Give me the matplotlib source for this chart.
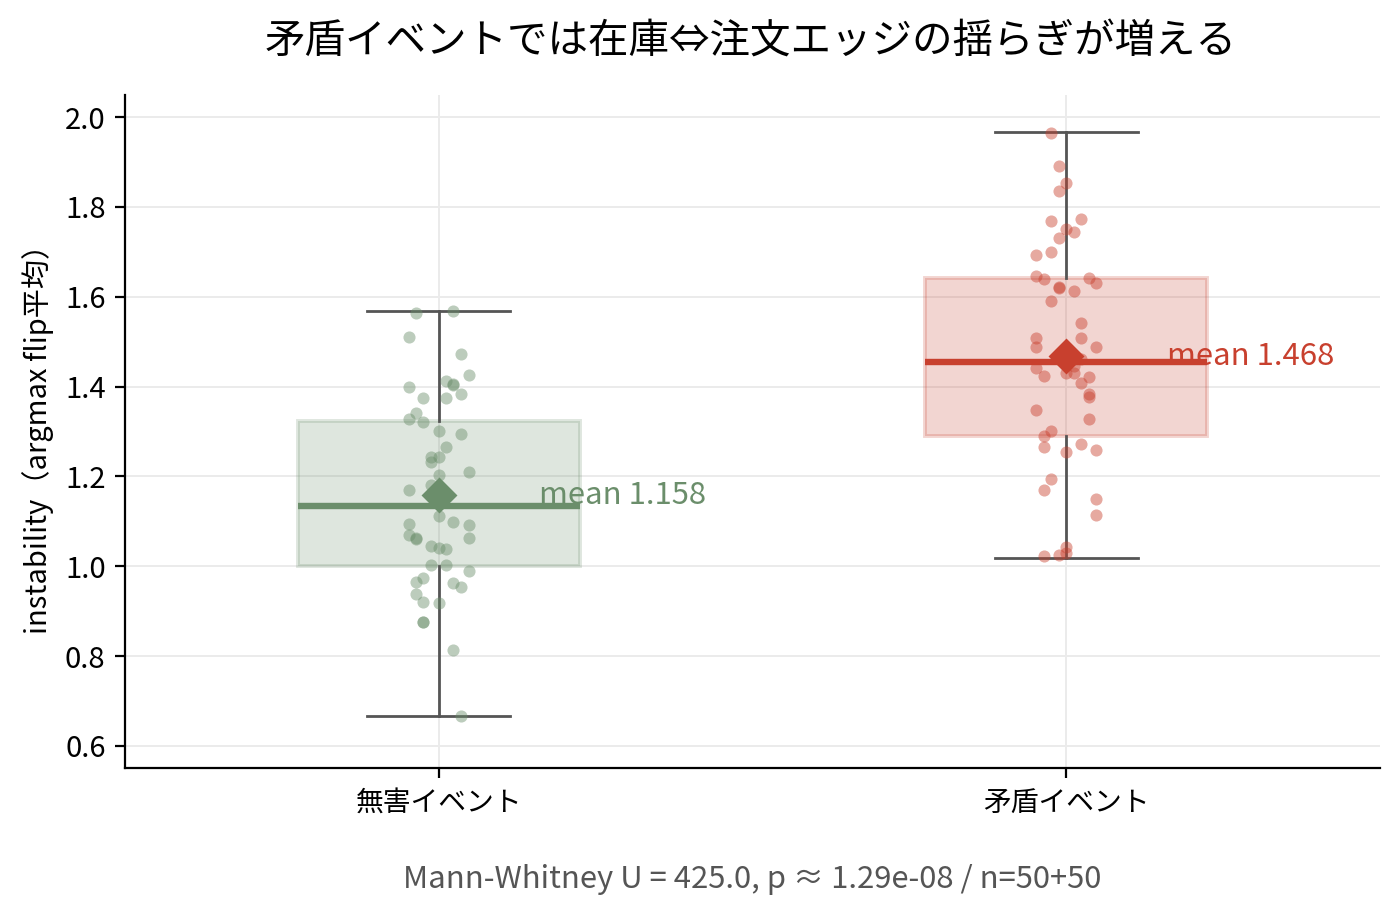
import matplotlib
matplotlib.use('Agg')
import matplotlib.pyplot as plt
import numpy as np

plt.rcParams['font.family'] = ['Noto Sans CJK JP', 'DejaVu Sans']

# --- data ---
groups = ['無害イベント', '矛盾イベント']
colors = ['#6b8e6b', '#c8402e']

# box stats: whisker lo, q1, median, q3, whisker hi
whislo = [0.667, 1.018]
q1 = [1.000, 1.290]
medians = [1.134, 1.455]
q3 = [1.323, 1.642]
whishi = [1.568, 1.967]
means = [1.158, 1.468]

benign_vals = [1.563, 1.569, 1.510, 1.472, 1.426, 1.413, 1.404, 1.399, 1.383, 1.375,
               1.375, 1.342, 1.327, 1.321, 1.301, 1.295, 1.266, 1.244, 1.244, 1.231,
               1.210, 1.203, 1.181, 1.169, 1.112, 1.099, 1.094, 1.091, 1.070, 1.060,
               1.063, 1.064, 1.044, 1.040, 1.038, 1.002, 1.002, 0.990, 0.973, 0.966,
               0.962, 0.953, 0.938, 0.921, 0.918, 0.875, 0.875, 0.814, 0.667, 1.406]
benign_jit = [-0.037, 0.023, -0.048, 0.035, 0.048, 0.011, 0.023, -0.048, 0.035, -0.025,
              0.011, -0.037, -0.048, -0.025, 0.000, 0.035, 0.011, -0.012, 0.000, -0.012,
              0.048, 0.000, -0.012, -0.048, 0.000, 0.023, -0.048, 0.048, -0.048, -0.037,
              -0.037, 0.048, -0.012, 0.000, 0.011, -0.012, 0.011, 0.048, -0.025, -0.037,
              0.023, 0.035, -0.037, -0.025, 0.000, -0.025, -0.025, 0.023, 0.035, 0.023]

conflict_vals = [1.965, 1.892, 1.852, 1.836, 1.769, 1.772, 1.750, 1.743, 1.730, 1.692,
                 1.700, 1.645, 1.640, 1.641, 1.630, 1.621, 1.619, 1.613, 1.591, 1.542,
                 1.508, 1.507, 1.489, 1.487, 1.441, 1.430, 1.430, 1.424, 1.422, 1.445,
                 1.409, 1.383, 1.376, 1.348, 1.327, 1.300, 1.289, 1.266, 1.255, 1.272,
                 1.259, 1.194, 1.169, 1.150, 1.113, 1.042, 1.030, 1.024, 1.022, 1.462]
conflict_jit = [-0.024, -0.012, 0.000, -0.012, -0.024, 0.024, 0.000, 0.012, -0.012, -0.048,
                -0.024, -0.048, -0.036, 0.036, 0.048, -0.012, -0.012, 0.012, -0.024, 0.024,
                -0.048, 0.024, -0.048, 0.048, -0.048, 0.000, 0.012, -0.036, 0.036, 0.012,
                0.024, 0.036, 0.036, -0.048, 0.036, -0.024, -0.036, -0.036, 0.000, 0.024,
                0.048, -0.024, -0.036, 0.048, 0.048, 0.000, 0.000, -0.012, -0.036, 0.024]

stat_note = 'Mann-Whitney U = 425.0, p ≈ 1.29e-08 / n=50+50'

fig = plt.figure(figsize=(7, 4.58), dpi=200)
ax = fig.add_axes([0.0893, 0.1616, 0.8964, 0.7347])

positions = np.arange(len(groups))
stats = [dict(whislo=whislo[i], q1=q1[i], med=medians[i], q3=q3[i], whishi=whishi[i],
              label=groups[i]) for i in range(len(groups))]
bp = ax.bxp(stats, positions=positions, widths=0.45, patch_artist=True, showfliers=False,
            capwidths=0.228, manage_ticks=False)
for i, c in enumerate(colors):
    bp['boxes'][i].set(facecolor=c, alpha=0.22, edgecolor=c, linewidth=1.4, zorder=2)
    bp['medians'][i].set(color=c, linewidth=2.3, zorder=4)
for ln in bp['whiskers'] + bp['caps']:
    ln.set(color='#555555', linewidth=1.0, zorder=3)

for i, (vals, jit) in enumerate([(benign_vals, benign_jit), (conflict_vals, conflict_jit)]):
    ax.scatter(positions[i] + np.array(jit), vals, s=19, color=colors[i], alpha=0.45,
               linewidths=0, zorder=3.5)
    ax.plot(positions[i], means[i], marker='D', markersize=8, color=colors[i], zorder=5)
    ax.text(positions[i] + 0.16, means[i], f'mean {means[i]:.3f}', color=colors[i],
            fontsize=11.2, va='center', ha='left', zorder=4.5)

ax.set_xlim(-0.5, 1.5)
ax.set_ylim(0.551, 2.049)
ax.set_xticks(positions)
ax.set_xticklabels(groups, fontsize=10)
ax.set_yticks([0.6, 0.8, 1.0, 1.2, 1.4, 1.6, 1.8, 2.0])
ax.tick_params(axis='y', labelsize=10.5)
ax.set_ylabel('instability（argmax flip平均）', fontsize=10.5)
ax.grid(True, color='#ebebeb', linewidth=0.7)
ax.set_axisbelow(True)
for sp in ['top', 'right']:
    ax.spines[sp].set_visible(False)

fig.suptitle('矛盾イベントでは在庫⇔注文エッジの揺らぎが増える', fontsize=14.6, x=0.536, y=0.977)
ax.text(0.5, -0.165, stat_note, transform=ax.transAxes, ha='center', va='center',
        fontsize=11.2, color='#555555')

fig.savefig('out.png', dpi=200)
